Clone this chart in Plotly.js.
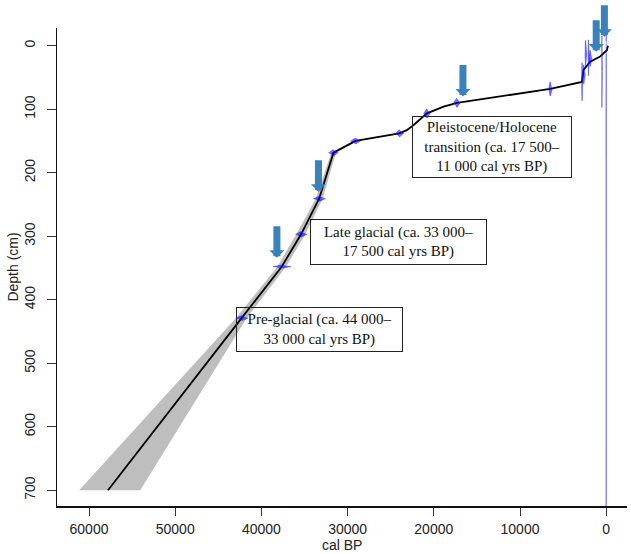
<!DOCTYPE html>
<html>
<head>
<meta charset="utf-8">
<script src="https://cdn.plot.ly/plotly-3.0.1.min.js"></script>
<style>
  html, body { margin: 0; padding: 0; background: #fff; }
  #chart { width: 631px; height: 554px; }
</style>
</head>
<body>
<div id="chart"></div>
<script>
// Age-depth model: median age and 95% envelope at each modelled depth (cm, cal BP)
const modelDepth  = [0, 7, 17, 25, 38, 57, 68, 90, 96, 106.5, 125, 133, 138, 150, 168.5, 241, 297, 348, 429, 527, 700];
const modelMedian = [-200, -80, 700, 1860, 2630, 2820, 6500, 17300, 18870, 20800, 22350, 23120, 24000, 29080, 31640, 33300, 35400, 37650, 42300, 47900, 57800];
const modelMin    = [-240, -130, 600, 1770, 2550, 2740, 6350, 17150, 18700, 20650, 22150, 22950, 23800, 28850, 31350, 32900, 34900, 37150, 41700, 46170, 54060];
const modelMax    = [-160, -30, 800, 1950, 2710, 2900, 6650, 17450, 19050, 20950, 22550, 23300, 24200, 29300, 31900, 33700, 35950, 38150, 42950, 49530, 61140];

// Calibrated dates: mean age, depth and age standard deviation
const dateAge   = [0, 500, 1860, 2050, 2380, 2600, 2800, 6500, 17320, 20800, 23980, 29080, 31640, 33260, 35380, 37620, 42260];
const dateDepth = [3, 41, 20, 19, 11.6, 45, 57, 68, 89.7, 106.5, 138, 150, 168.5, 241, 297, 348, 429];
const dateSd    = [1, 16, 70, 32, 45, 60, 30, 80, 125, 125, 155, 190, 185, 232, 217, 350, 232];

// Boundaries flagged with arrows (age, depth of the arrow tip)
const arrowAge   = [38200, 33380, 16620, 1160, 210];
const arrowDepth = [334, 230, 80, 9.4, -14.2];

// Period labels
const periodLabels = [
  'Pleistocene/Holocene<br>transition (ca. 17 500\u2013<br>11 000 cal yrs BP)',
  'Late glacial (ca. 33 000\u2013<br>17 500 cal yrs BP)',
  'Pre-glacial (ca. 44 000\u2013<br>33 000 cal yrs BP)'
];

// Axis ticks
const xTicks = [60000, 50000, 40000, 30000, 20000, 10000, 0];
const yTicks = [0, 100, 200, 300, 400, 500, 600, 700];

const traces = [];

// 95% envelope
traces.push({
  x: modelMin.concat(modelMax.slice().reverse()),
  y: modelDepth.concat(modelDepth.slice().reverse()),
  type: 'scatter', mode: 'lines', fill: 'toself',
  fillcolor: '#bebebe', line: { width: 0 }, hoverinfo: 'skip'
});

// median model
traces.push({
  x: modelMedian, y: modelDepth,
  type: 'scatter', mode: 'lines',
  line: { color: '#000', width: 1.8 }, hoverinfo: 'skip'
});

// each calibrated date drawn as a normal curve mirrored about its depth,
// equal area so narrow dates stand taller
const distArea = 905;
for (let i = 0; i < dateAge.length; i++) {
  const h = distArea / dateSd[i];
  const xs = [], up = [], down = [];
  for (let t = -3; t <= 3.0001; t += 0.2) {
    xs.push(dateAge[i] + t * dateSd[i]);
    const v = h * Math.exp(-t * t / 2);
    up.push(dateDepth[i] - v);
    down.push(dateDepth[i] + v);
  }
  traces.push({
    x: xs.concat(xs.slice().reverse()),
    y: up.concat(down.slice().reverse()),
    type: 'scatter', mode: 'lines', fill: 'toself',
    fillcolor: 'rgba(0,0,255,0.55)',
    line: { color: 'rgba(30,30,255,0.45)', width: 1 },
    hoverinfo: 'skip'
  });
}

const annotations = [];
for (let i = 0; i < arrowAge.length; i++) {
  annotations.push({
    x: arrowAge[i], y: arrowDepth[i], xref: 'x', yref: 'y',
    text: '', showarrow: true, ax: 0, ay: -33,
    arrowhead: 1, arrowsize: 0.36, arrowwidth: 7, arrowcolor: '#3a82bb',
    standoff: 0, startstandoff: 0
  });
}

const boxFont = { family: 'Liberation Serif, Times New Roman, serif', size: 15, color: '#111' };
const boxes = [
  { x: 13230, y: 159.5, w: 158, h: 60 },
  { x: 24070, y: 309, w: 175, h: 44 },
  { x: 33260, y: 446.5, w: 165, h: 43 }
];
boxes.forEach((b, i) => {
  annotations.push({
    x: b.x, y: b.y, xref: 'x', yref: 'y',
    text: periodLabels[i], showarrow: false,
    font: boxFont, align: 'center',
    width: b.w, height: b.h, borderpad: 0,
    bordercolor: '#222', borderwidth: 1, bgcolor: 'rgba(0,0,0,0)'
  });
});

const axisFont = { family: 'Liberation Sans, Arial, sans-serif', size: 14, color: '#222' };

// x-axis title sits tight under the tick labels
annotations.push({
  text: 'cal BP', xref: 'paper', yref: 'paper', x: 0.5, y: -0.0826,
  xanchor: 'center', yanchor: 'middle', showarrow: false, font: axisFont,
  borderpad: 0
});

const layout = {
  width: 631, height: 554,
  margin: { l: 57, r: 4, t: 28, b: 48 },
  paper_bgcolor: '#fff', plot_bgcolor: '#fff',
  showlegend: false,
  font: axisFont,
  xaxis: {
    range: [63712, -2413], tickvals: xTicks, tickformat: 'd',
    ticks: 'outside', ticklen: 8, tickwidth: 1, tickcolor: '#333',
    ticklabelstandoff: 2,
    showline: true, linecolor: '#111', linewidth: 1.5, mirror: false,
    showgrid: false, zeroline: false, automargin: false,
    tickfont: axisFont
  },
  yaxis: {
    range: [724.9, -27.9], tickvals: yTicks, tickformat: 'd', tickangle: -90,
    ticks: 'outside', ticklen: 9, tickwidth: 1, tickcolor: '#333',
    ticklabelstandoff: 6,
    showline: true, linecolor: '#111', linewidth: 1.5,
    showgrid: false, zeroline: false, automargin: false,
    tickfont: axisFont,
    title: { text: 'Depth (cm)', font: axisFont, standoff: 0 }
  },
  annotations: annotations
};

Plotly.newPlot('chart', traces, layout, { staticPlot: true, displayModeBar: false });
</script>
</body>
</html>
